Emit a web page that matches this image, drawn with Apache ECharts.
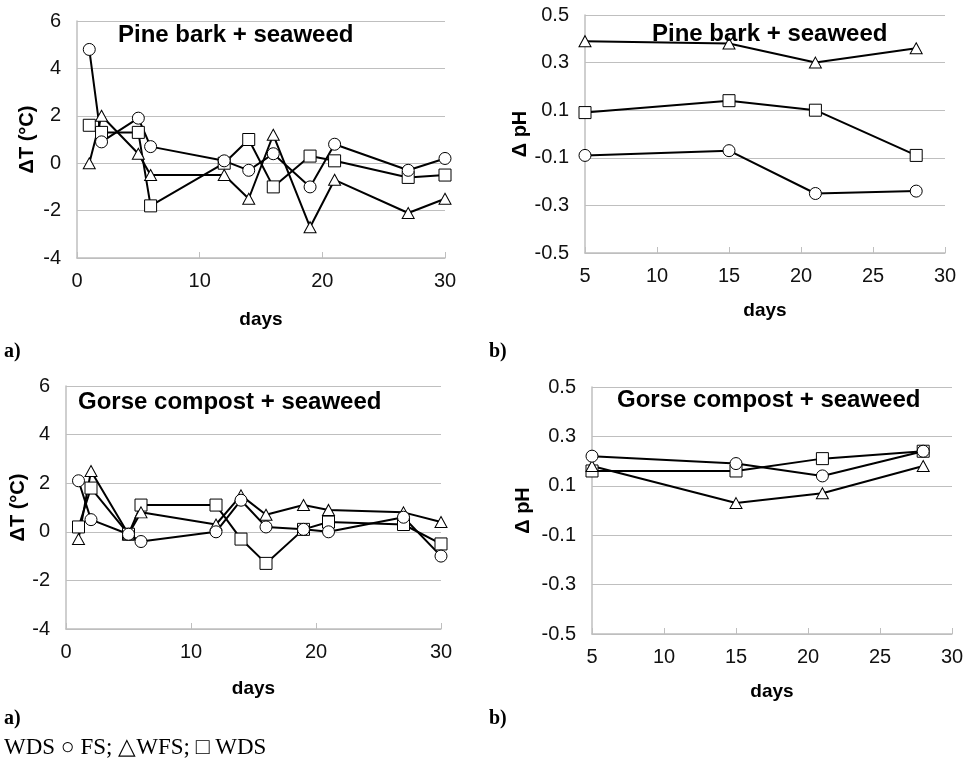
<!DOCTYPE html>
<html>
<head>
<meta charset="utf-8">
<title>Delta T and pH</title>
<script src="https://cdn.jsdelivr.net/npm/echarts@6/dist/echarts.min.js"></script>
<style>body{margin:0;background:#fff}</style>
</head>
<body>
<div id="main" style="width:973px;height:765px;"></div>
<script>
// sampling days
var daysT = [1, 2, 5, 6, 12, 14, 16, 19, 21, 27, 30];
var daysPH = [5, 15, 21, 28];

// Pine bark + seaweed, delta T
var pineT_FS  = [4.8, 0.9, 1.9, 0.7, 0.1, -0.3, 0.4, -1.0, 0.8, -0.3, 0.2];
var pineT_WFS = [0.0, 2.0, 0.4, -0.5, -0.5, -1.5, 1.2, -2.7, -0.7, -2.1, -1.5];
var pineT_WDS = [1.6, 1.3, 1.3, -1.8, 0.0, 1.0, -1.0, 0.3, 0.1, -0.6, -0.5];
// Pine bark + seaweed, delta pH
var pinePH_FS  = [-0.09, -0.07, -0.25, -0.24];
var pinePH_WFS = [0.39, 0.38, 0.30, 0.36];
var pinePH_WDS = [0.09, 0.14, 0.10, -0.09];
// Gorse compost + seaweed, delta T
var gorseT_FS  = [2.1, 0.5, -0.1, -0.4, 0.0, 1.3, 0.2, 0.1, 0.0, 0.6, -1.0];
var gorseT_WFS = [-0.3, 2.5, -0.1, 0.8, 0.3, 1.5, 0.7, 1.1, 0.9, 0.8, 0.4];
var gorseT_WDS = [0.2, 1.8, -0.1, 1.1, 1.1, -0.3, -1.3, 0.1, 0.4, 0.3, -0.5];
// Gorse compost + seaweed, delta pH
var gorsePH_FS  = [0.22, 0.19, 0.14, 0.24];
var gorsePH_WFS = [0.18, 0.03, 0.07, 0.18];
var gorsePH_WDS = [0.16, 0.16, 0.21, 0.24];

var panelTitles = ['Pine bark + seaweed', 'Pine bark + seaweed', 'Gorse compost + seaweed', 'Gorse compost + seaweed'];

function pairs(xs, ys) {
    return xs.map(function (x, i) { return [x, ys[i]]; });
}

var grids = [
    {left: 77, right: 528, top: 21, bottom: 507},
    {left: 585, right: 28, top: 15, bottom: 512},
    {left: 66, right: 532, top: 386, bottom: 136},
    {left: 592, right: 21, top: 387, bottom: 131}
];

var gridColor = '#bfbfbf';
var tickFont = {color: '#111', fontSize: 20, fontFamily: 'Liberation Sans'};
var nameFont = {color: '#000', fontSize: 19, fontWeight: 'bold', fontFamily: 'Liberation Sans'};

function xAxisFor(i, min, max, step, gap) {
    return {
        type: 'value', gridIndex: i, min: min, max: max, interval: step,
        name: 'days', nameLocation: 'middle', nameGap: gap, nameTextStyle: nameFont,
        axisLine: {onZero: false, lineStyle: {color: gridColor, width: 1.5}},
        axisTick: {show: true, inside: true, length: 6, lineStyle: {color: gridColor}},
        axisLabel: Object.assign({margin: 13}, tickFont),
        splitLine: {show: false}
    };
}
function yAxisFor(i, min, max, step, name, gap, digits) {
    return {
        type: 'value', gridIndex: i, min: min, max: max, interval: step,
        name: name, nameLocation: 'middle', nameGap: gap,
        nameTextStyle: Object.assign({}, nameFont, {fontSize: 20}),
        axisLine: {show: true, onZero: false, lineStyle: {color: gridColor, width: 1.5}},
        axisTick: {show: false},
        axisLabel: Object.assign({margin: 16, formatter: function (v) { return v.toFixed(digits); }}, tickFont),
        splitLine: {show: true, lineStyle: {color: gridColor, width: 1.2}}
    };
}

var shapes = {
    FS:  {symbol: 'circle', size: 12},
    WFS: {symbol: 'triangle', size: [12, 11]},
    WDS: {symbol: 'rect', size: 12}
};

function line(i, key, xs, ys) {
    return {
        type: 'line', xAxisIndex: i, yAxisIndex: i, name: key,
        data: pairs(xs, ys),
        symbol: shapes[key].symbol, symbolSize: shapes[key].size, showAllSymbol: true,
        lineStyle: {color: '#000', width: 2},
        itemStyle: {color: '#fff', borderColor: '#000', borderWidth: 1},
        animation: false
    };
}

var labelFont = 'bold 20px "Liberation Serif"';

var myChart = echarts.init(document.getElementById('main'));
var option = {
    backgroundColor: '#fff',
    animation: false,
    grid: grids,
    title: [
        {text: panelTitles[0], left: 113, top: 18},
        {text: panelTitles[1], left: 647, top: 17},
        {text: panelTitles[2], left: 73, top: 385},
        {text: panelTitles[3], left: 612, top: 383}
    ].map(function (t) {
        t.textStyle = {color: '#000', fontSize: 24, fontWeight: 'bold', fontFamily: 'Liberation Sans'};
        return t;
    }),
    xAxis: [
        xAxisFor(0, 0, 30, 10, 52),
        xAxisFor(1, 5, 30, 5, 48),
        xAxisFor(2, 0, 30, 10, 50),
        xAxisFor(3, 5, 30, 5, 48)
    ],
    yAxis: [
        yAxisFor(0, -4, 6, 2, 'ΔT (°C)', 40, 0),
        yAxisFor(1, -0.5, 0.5, 0.2, 'Δ pH', 49, 1),
        yAxisFor(2, -4, 6, 2, 'ΔT (°C)', 29, 0),
        yAxisFor(3, -0.5, 0.5, 0.2, 'Δ pH', 59, 1)
    ],
    graphic: [
        {type: 'text', left: 4, top: 342, style: {text: 'a)', font: labelFont, fill: '#000'}},
        {type: 'text', left: 489, top: 342, style: {text: 'b)', font: labelFont, fill: '#000'}},
        {type: 'text', left: 4, top: 709, style: {text: 'a)', font: labelFont, fill: '#000'}},
        {type: 'text', left: 489, top: 709, style: {text: 'b)', font: labelFont, fill: '#000'}},
        {type: 'text', left: 4, top: 736, style: {text: 'WDS ○ FS; △WFS; □ WDS', font: '23px "Liberation Serif"', fill: '#000'}}
    ],
    series: [
        line(0, 'WDS', daysT, pineT_WDS),
        line(0, 'WFS', daysT, pineT_WFS),
        line(0, 'FS', daysT, pineT_FS),
        line(1, 'WDS', daysPH, pinePH_WDS),
        line(1, 'WFS', daysPH, pinePH_WFS),
        line(1, 'FS', daysPH, pinePH_FS),
        line(2, 'WDS', daysT, gorseT_WDS),
        line(2, 'WFS', daysT, gorseT_WFS),
        line(2, 'FS', daysT, gorseT_FS),
        line(3, 'WDS', daysPH, gorsePH_WDS),
        line(3, 'WFS', daysPH, gorsePH_WFS),
        line(3, 'FS', daysPH, gorsePH_FS)
    ]
};
myChart.setOption(option);
</script>
</body>
</html>
